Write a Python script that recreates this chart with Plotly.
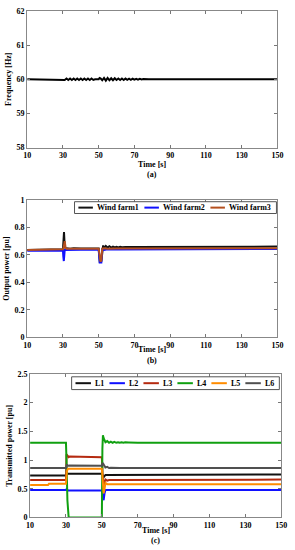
import plotly.graph_objects as go

# ---------------- data ----------------
# (a) frequency
freq_t = [10, 30, 31, 32, 33, 34, 35, 36, 37, 38, 39, 40, 41, 42, 43, 44, 45, 46, 47, 48, 50,
          50.5, 51, 52, 53, 54, 55, 56, 57, 58, 59, 60, 61, 62, 63, 64, 65, 66, 67, 68, 69, 70,
          71, 72, 73, 74, 75, 78, 150]
freq_v = [60.0, 60.0, 59.98, 60.02, 59.98, 60.02, 59.98, 60.02, 59.98, 60.02, 59.98, 60.02, 59.98,
          60.02, 59.98, 60.02, 59.98, 60.02, 59.98, 60.0, 60.0,
          60.04, 60.03, 59.97, 60.04, 59.96, 60.04, 59.97, 60.03, 59.97, 60.03, 59.98, 60.02, 59.98,
          60.02, 59.98, 60.02, 59.985, 60.015, 59.985, 60.015, 59.99, 60.01, 59.99, 60.01, 59.995,
          60.005, 60.0, 60.0]

# (b) wind farm output power
wf1_t = [10, 30, 30.3, 30.6, 31, 31.5, 32, 34, 36, 38, 40, 45, 50, 50.3, 50.6, 51.5, 52, 52.5, 53,
         54, 55, 56, 57, 58, 59, 60, 61, 62, 63, 64, 65, 70, 90, 120, 150]
wf1_v = [0.635, 0.64, 0.70, 0.765, 0.66, 0.645, 0.648, 0.645, 0.648, 0.645, 0.646, 0.646, 0.646,
         0.60, 0.55, 0.555, 0.64, 0.668, 0.65, 0.664, 0.652, 0.662, 0.653, 0.66, 0.654, 0.659,
         0.654, 0.658, 0.655, 0.658, 0.656, 0.656, 0.657, 0.658, 0.66]
wf2_t = [10, 30, 30.2, 30.5, 31, 35, 40, 50, 50.3, 50.6, 51.5, 52, 53, 55, 60, 90, 150]
wf2_v = [0.63, 0.632, 0.59, 0.555, 0.635, 0.634, 0.636, 0.636, 0.60, 0.545, 0.545, 0.64, 0.636,
         0.64, 0.638, 0.64, 0.642]
wf3_t = [10, 30, 30.5, 31, 31.5, 32, 40, 50, 50.5, 51, 51.5, 52, 53, 55, 60, 90, 150]
wf3_v = [0.635, 0.64, 0.66, 0.70, 0.65, 0.645, 0.645, 0.645, 0.60, 0.55, 0.56, 0.645, 0.648,
         0.645, 0.646, 0.647, 0.648]

# (c) transmitted power
L1_t = [10, 30, 30.5, 31, 50, 50.5, 51, 52, 143, 144, 150]
L1_v = [0.73, 0.73, 0.77, 0.76, 0.76, 0.72, 0.70, 0.74, 0.74, 0.75, 0.75]
L2_t = [10, 30, 30.5, 31, 50, 50.5, 51, 51.5, 52, 53, 150]
L2_v = [0.48, 0.48, 0.50, 0.47, 0.47, 0.40, 0.30, 0.42, 0.48, 0.48, 0.48]
L3_t = [10, 30, 30.3, 30.8, 31.5, 32, 50, 50.5, 51, 51.5, 52, 53, 54, 56, 128, 129, 150]
L3_v = [0.65, 0.65, 1.10, 1.08, 1.05, 1.06, 1.05, 0.70, 0.55, 0.62, 0.66, 0.64, 0.65, 0.65,
        0.65, 0.66, 0.66]
L4_t = [10, 30, 30.3, 30.8, 31.5, 50, 50.3, 50.6, 51, 51.5, 52, 53, 54, 55, 56, 57, 58, 59, 60,
        61, 62, 63, 64, 65, 70, 150]
L4_v = [1.30, 1.30, 1.00, 0.30, 0.0, 0.0, 1.20, 1.43, 1.38, 1.34, 1.31, 1.33, 1.30, 1.32, 1.30,
        1.315, 1.30, 1.31, 1.30, 1.31, 1.30, 1.308, 1.30, 1.305, 1.30, 1.30]
L5_t = [10, 20, 20.5, 30, 30.5, 31, 50, 50.5, 51, 51.5, 52, 53, 150]
L5_v = [0.565, 0.565, 0.585, 0.585, 0.80, 0.85, 0.85, 0.60, 0.42, 0.50, 0.60, 0.58, 0.58]
L6_t = [10, 30, 30.5, 31, 32, 50, 50.5, 51, 52, 53, 54, 55, 60, 150]
L6_v = [0.86, 0.86, 0.92, 0.90, 0.905, 0.90, 0.95, 0.92, 0.87, 0.88, 0.86, 0.865, 0.86, 0.86]

wf_names = ["Wind farm1", "Wind farm2", "Wind farm3"]
line_names = ["L1", "L2", "L3", "L4", "L5", "L6"]

x_ticks = [10, 30, 50, 70, 90, 110, 130, 150]
freq_ticks = [58, 59, 60, 61, 62]
pow_ticks = [0, 0.2, 0.4, 0.6, 0.8, 1]
trans_ticks = [0, 0.5, 1, 1.5, 2, 2.5]

# ---------------- styling ----------------
W, H = 295, 550
FONT = "Liberation Serif"
wf_colors = ["#111111", "#1010ff", "#b5501f"]
line_colors = ["#111111", "#1010ff", "#b52a10", "#10a010", "#ff8c00", "#505050"]


def px_y(p):
    return 1 - p / H


def px_x(p):
    return p / W


fig = go.Figure()

fig.add_trace(go.Scatter(x=freq_t, y=freq_v, mode="lines", line=dict(color="#000000", width=2),
                         xaxis="x", yaxis="y", showlegend=False))

for t, v, name, col in zip([wf1_t, wf2_t, wf3_t], [wf1_v, wf2_v, wf3_v], wf_names, wf_colors):
    fig.add_trace(go.Scatter(x=t, y=v, mode="lines", name=name, line=dict(color=col, width=2),
                             xaxis="x2", yaxis="y2", showlegend=False))

for t, v, name, col in zip([L1_t, L2_t, L3_t, L4_t, L5_t, L6_t],
                           [L1_v, L2_v, L3_v, L4_v, L5_v, L6_v], line_names, line_colors):
    fig.add_trace(go.Scatter(x=t, y=v, mode="lines", name=name, line=dict(color=col, width=2),
                             xaxis="x3", yaxis="y3", showlegend=False))

tickfont = dict(family=FONT, size=8, color="#000000")
titlefont = dict(family=FONT, size=8, color="#000000")


def xax(dom, anchor):
    return dict(domain=dom, anchor=anchor, range=[10, 150], tickvals=x_ticks,
                ticktext=[f"<b>{v}</b>" for v in x_ticks],
                ticks="inside", ticklen=3, tickcolor="#777", showline=True, linecolor="#888",
                linewidth=1, mirror="allticks", showgrid=False, zeroline=False,
                tickfont=tickfont)


def yax(dom, anchor, rng, tv, title):
    return dict(domain=dom, anchor=anchor, range=rng, tickvals=tv,
                ticktext=[f"<b>{v:g}</b>" for v in tv],
                ticks="inside", ticklen=3, tickcolor="#777", showline=True, linecolor="#888",
                linewidth=1, mirror="allticks", showgrid=False, zeroline=False,
                tickfont=tickfont, title=dict(text=f"<b>{title}</b>", font=titlefont, standoff=3))


xdom_ab = [px_x(24), px_x(283)]
xdom_c = [px_x(27), px_x(287)]

shapes = []
annotations = []


def add_legend(left, right, top, bottom, names, colors, line_len):
    shapes.append(dict(type="rect", xref="paper", yref="paper",
                       x0=px_x(left), x1=px_x(right), y0=px_y(bottom), y1=px_y(top),
                       line=dict(color="#555", width=1), fillcolor="white", layer="above"))
    n = len(names)
    step = (right - left - 4) / n
    ymid = px_y((top + bottom) / 2)
    for i, (nm, col) in enumerate(zip(names, colors)):
        x0 = left + 4 + i * step
        shapes.append(dict(type="line", xref="paper", yref="paper",
                           x0=px_x(x0), x1=px_x(x0 + line_len), y0=ymid, y1=ymid,
                           line=dict(color=col, width=2), layer="above"))
        annotations.append(dict(text=f"<b>{nm}</b>", x=px_x(x0 + line_len + 2), y=ymid,
                                xref="paper", yref="paper", xanchor="left", yanchor="middle",
                                showarrow=False, font=dict(family=FONT, size=8, color="#000")))


add_legend(73, 282, 201, 213, wf_names, wf_colors, 15)
add_legend(70, 285, 379, 392, line_names, line_colors, 16)

for xc, yt in [((24 + 283) / 2, 163), ((24 + 283) / 2, 351), ((27 + 287) / 2, 535)]:
    annotations.append(dict(text="<b>Time [s]</b>", x=px_x(xc), y=px_y(yt), xref="paper",
                            yref="paper", showarrow=False, yanchor="middle",
                            font=dict(family=FONT, size=8, color="#000")))

for lbl, xc, yb in [("(a)", (24 + 283) / 2, 173), ("(b)", (24 + 283) / 2, 362),
                    ("(c)", (27 + 287) / 2, 545)]:
    annotations.append(dict(text=f"<b>{lbl}</b>", x=px_x(xc), y=px_y(yb), xref="paper",
                            yref="paper", showarrow=False, yanchor="middle",
                            font=dict(family=FONT, size=8, color="#000")))

fig.update_layout(
    width=W, height=H,
    margin=dict(l=0, r=0, t=0, b=0),
    paper_bgcolor="white", plot_bgcolor="white",
    font=dict(family=FONT, size=8, color="#000"),
    showlegend=False,
    xaxis=xax(xdom_ab, "y"), xaxis2=xax(xdom_ab, "y2"), xaxis3=xax(xdom_c, "y3"),
    yaxis=yax([px_y(146), px_y(7)], "x", [58, 62], freq_ticks, "Frequency [Hz]"),
    yaxis2=yax([px_y(339), px_y(199)], "x2", [0, 1], pow_ticks, "Output power [pu]"),
    yaxis3=yax([px_y(522), px_y(376)], "x3", [0, 2.5], trans_ticks, "Transmitted power [pu]"),
    shapes=shapes,
    annotations=annotations,
)

fig.write_html("out.html", config={"displayModeBar": False},
               post_script="document.body.style.margin='0px';document.body.style.overflow='hidden';")
